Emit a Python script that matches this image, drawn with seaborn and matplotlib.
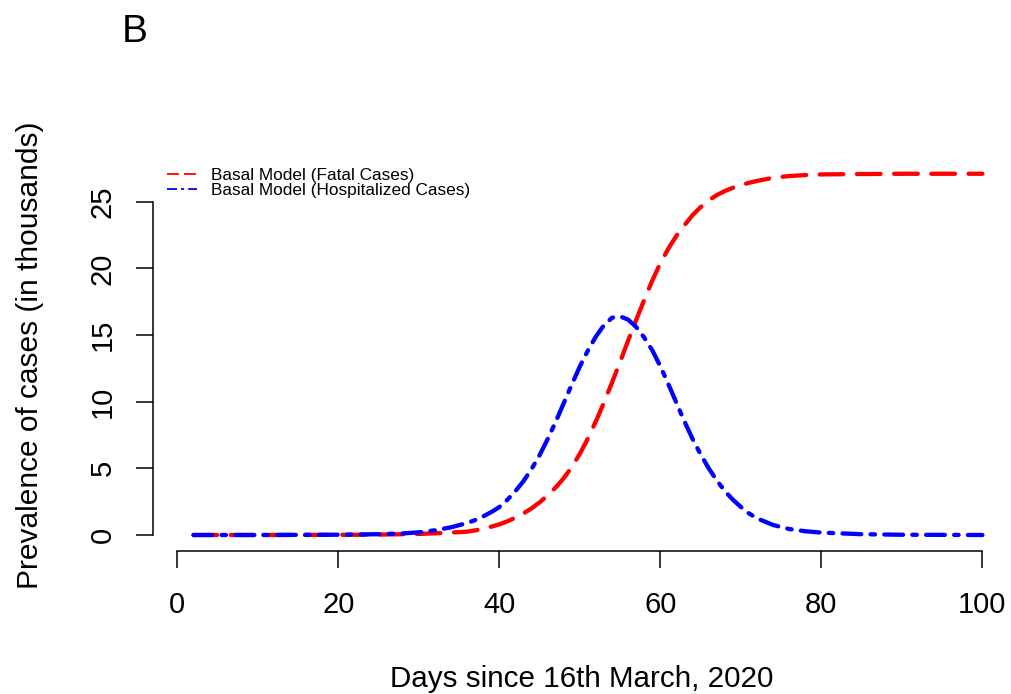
import matplotlib
matplotlib.use("Agg")
import matplotlib.pyplot as plt
from matplotlib.lines import Line2D
import seaborn as sns
import pandas as pd

# ---- data ----
fatal_days = [2, 10, 20, 25, 30, 33, 36, 38, 40, 41, 42, 43, 44, 45, 46, 47, 48, 49, 50,
              51, 52, 53, 54, 55, 56, 57, 58, 59, 60, 61, 62, 63, 64, 65, 66, 67, 68, 69,
              70, 71, 72, 74, 76, 78, 80, 85, 90, 95, 100]
fatal_vals = [0.0, 0.0, 0.01, 0.03, 0.08, 0.15, 0.25, 0.45, 0.8, 1.03, 1.3, 1.62, 2.0,
              2.45, 2.97, 3.57, 4.27, 5.1, 6.1, 7.25, 8.55, 9.95, 11.45, 13.0, 14.6,
              16.15, 17.65, 19.1, 20.4, 21.5, 22.45, 23.25, 24.0, 24.6, 25.1, 25.5, 25.8,
              26.05, 26.25, 26.42, 26.56, 26.8, 26.93, 27.0, 27.05, 27.08, 27.1, 27.1, 27.1]

hosp_days = [2, 10, 20, 25, 28, 30, 32, 34, 36, 37, 38, 39, 40, 41, 42, 43, 44, 45, 46, 47,
             48, 49, 50, 51, 52, 53, 54, 55, 56, 57, 58, 59, 60, 61, 62, 63, 64, 65, 66,
             67, 68, 69, 70, 71, 72, 74, 76, 78, 80, 85, 90, 95, 100]
hosp_vals = [0.0, 0.0, 0.02, 0.06, 0.12, 0.2, 0.35, 0.58, 0.9, 1.12, 1.4, 1.72, 2.1, 2.65,
             3.3, 4.05, 4.95, 6.0, 7.2, 8.5, 9.9, 11.3, 12.65, 13.85, 14.9, 15.75, 16.3,
             16.4, 16.15, 15.6, 14.8, 13.85, 12.65, 11.3, 9.9, 8.5, 7.2, 6.05, 5.0, 4.1,
             3.3, 2.65, 2.1, 1.62, 1.25, 0.75, 0.45, 0.28, 0.18, 0.06, 0.02, 0.01, 0.0]

x_ticks = [0, 20, 40, 60, 80, 100]
y_ticks = [0, 5, 10, 15, 20, 25]
series_labels = ["Basal Model (Fatal Cases)", "Basal Model (Hospitalized Cases)"]

# ---- style ----
sns.set_style("white")
plt.rcParams["font.family"] = ["Liberation Sans", "DejaVu Sans"]
plt.rcParams["lines.scale_dashes"] = False
plt.rcParams["text.color"] = "black"
plt.rcParams["axes.labelcolor"] = "black"

W, H = 1011, 694
fig = plt.figure(figsize=(W / 100, H / 100), dpi=100)
ax_left, ax_right, ax_top, ax_bottom = 153, 1011, 150, 550.7
ax = fig.add_axes([ax_left / W, 1 - ax_bottom / H, (ax_right - ax_left) / W,
                   (ax_bottom - ax_top) / H])

df_f = pd.DataFrame({"day": fatal_days, "value": fatal_vals})
df_h = pd.DataFrame({"day": hosp_days, "value": hosp_vals})

sns.lineplot(data=df_f, x="day", y="value", ax=ax, color="#ff0000", linewidth=3.1,
             linestyle=(0, (17, 9.8)), sort=True)
sns.lineplot(data=df_h, x="day", y="value", ax=ax, color="#0000ff", linewidth=3.1,
             linestyle=(0, (13.5, 6.7, 3.2, 6.7)), sort=True)
for ln in ax.lines:
    ln.set_dash_capstyle("round")
    ln.set_solid_joinstyle("round")
    ln.set_dash_joinstyle("round")

# pixel-calibrated limits
x0px, px_per_day = 177.4, 8.05
y0px, px_per_unit = 535.0, 13.33
ax.set_xlim((ax_left - x0px) / px_per_day, (ax_right - x0px) / px_per_day)
ax.set_ylim(-(ax_bottom - y0px) / px_per_unit, (y0px - ax_top) / px_per_unit)

ax.set_xticks(x_ticks)
ax.set_yticks(y_ticks)
ax.set_xlabel("")
ax.set_ylabel("")

for s in ["top", "right"]:
    ax.spines[s].set_visible(False)
ax.spines["left"].set_bounds(0, 25)
ax.spines["bottom"].set_bounds(0, 100)
for s in ["left", "bottom"]:
    ax.spines[s].set_color("black")
    ax.spines[s].set_linewidth(1.1)

ax.tick_params(axis="both", direction="out", length=12, width=1.1, color="black",
               labelsize=21, labelcolor="black", left=True, bottom=True)
ax.tick_params(axis="x", pad=17)
ax.tick_params(axis="y", pad=14, labelrotation=90)
for lab in ax.get_yticklabels():
    lab.set_va("center")

ax.grid(False)

# legend (thin lines like R's default legend)
handles = [
    Line2D([], [], color="#ff0000", linewidth=1.3, linestyle=(0, (8.6, 3.6))),
    Line2D([], [], color="#0000ff", linewidth=1.3, linestyle=(0, (7.2, 2.9, 2.2, 2.9))),
]
leg = ax.legend(handles, series_labels, loc="upper left",
                bbox_to_anchor=(167 / W, 1 - 168 / H), bbox_transform=fig.transFigure,
                frameon=False, fontsize=12.4, handlelength=1.75, handletextpad=0.82,
                labelspacing=0.0, borderpad=0.0, borderaxespad=0.0)
for t in leg.get_texts():
    t.set_color("black")

# axis titles and panel letter
fig.text(582 / W, 1 - 687 / H, "Days since 16th March, 2020", ha="center",
         va="baseline", fontsize=21.3, color="black")
fig.text(30 / W, 1 - 355 / H, "Prevalence of cases (in thousands)", ha="center",
         va="center", rotation=90, fontsize=21.5, color="black")
fig.text(122 / W, 1 - 42 / H, "B", ha="left", va="baseline", fontsize=28, color="black")

fig.savefig("out.png", dpi=100)
